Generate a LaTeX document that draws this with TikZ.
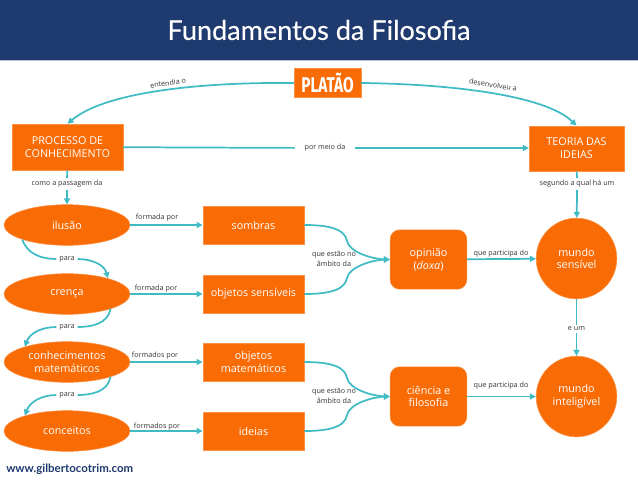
\documentclass[tikz,border=0pt]{standalone}
\usepackage{fontspec}
\setmainfont{Open Sans}
\newfontfamily\titlefont[FakeBold=0.25]{Lato}
\newfontfamily\sitefont{Lato}
\newfontfamily\platofont[FakeStretch=0.72]{Fira Sans}
\usetikzlibrary{shapes,arrows.meta,positioning,calc}
\definecolor{boxorange}{HTML}{F96C05}
\definecolor{linkteal}{HTML}{3FBBC4}
\definecolor{bandnavy}{HTML}{1F3A6F}

\begin{document}
\begin{tikzpicture}[x=0.75pt, y=-0.75pt,
    box/.style={fill=boxorange, draw=boxorange!75!white, line width=0.4pt, text=white, align=center, inner sep=0pt, font=\fontsize{8.1}{9.6}\selectfont},
    oval/.style={box, ellipse, minimum width=94.5pt, minimum height=30.5pt},
    rect/.style={box, minimum width=76pt, minimum height=28.5pt},
    round box/.style={box, rounded corners=7pt, minimum width=57.5pt, minimum height=44.5pt},
    world/.style={box, circle, minimum size=60.5pt},
    lab/.style={font=\fontsize{5.4}{7.5}\selectfont, text=black!80, align=center, inner sep=0pt},
    gap/.style={lab, inner ysep=1.5pt},
    link/.style={linkteal, line width=1.3pt},
    arrow/.style={link, -{Triangle[length=4.5pt, width=4.5pt]}}
]
    \useasboundingbox (0,0) rectangle (638,479);

    % Header band
    \fill[bandnavy] (0,0) rectangle (638,60);
    \fill[bandnavy!30!white] (0,60) rectangle (638,61);
    \node[text=white, font=\titlefont\fontsize{20.3}{22}\selectfont] (title) at (319,30) {Fundamentos da Filosofia};

    % Top row
    \node[box, minimum width=50pt, minimum height=21.5pt, font=\platofont\bfseries\fontsize{16}{18}\selectfont] (platao) at (327.5,83) {PLATÃO};
    \node[box, minimum width=83pt, minimum height=34.5pt] (processo) at (67.5,147) {PROCESSO DE\\CONHECIMENTO};
    \node[box, minimum width=71pt, minimum height=34pt] (teoria) at (576.5,148.5) {TEORIA DAS\\IDEIAS};

    % Left column
    \node[oval] (ilusao) at (67,225) {ilusão};
    \node[oval] (crenca) at (67,294) {crença};
    \node[oval] (conhecimentos) at (67,362) {conhecimentos\\matemáticos};
    \node[oval] (conceitos) at (67,431) {conceitos};

    % Middle column
    \node[rect] (sombras) at (253.5,225) {sombras};
    \node[rect] (sensiveis) at (253.5,294) {objetos sensíveis};
    \node[rect] (matematicos) at (253.5,362) {objetos\\matemáticos};
    \node[rect] (ideias) at (253.5,431) {ideias};

    % Right columns
    \node[round box] (opiniao) at (428.5,259.5) {opinião\\(\textit{doxa})};
    \node[round box] (ciencia) at (428.5,396.5) {ciência e\\filosofia};
    \node[world] (sensivel) at (576.5,258.5) {mundo\\sensível};
    \node[world] (inteligivel) at (576.5,396.5) {mundo\\inteligível};

    % Labels sitting on a connector
    \node[gap] (passagem) at (67,184) {como a passagem da};
    \node[gap] (segundo) at (577,184) {segundo a qual há um};
    \node[gap] (eum) at (576.5,329) {e um};
    \node[lab, minimum width=45pt] (meio) at (325,148) {por meio da};
    \node[lab, minimum width=15.5pt] (para1) at (67,259) {para};
    \node[lab, minimum width=15.5pt] (para2) at (67,327) {para};
    \node[lab, minimum width=15.5pt] (para3) at (67,395) {para};

    % Labels beside a connector
    \node[lab, rotate=8] (entendia) at (168,83) {entendia o};
    \node[lab, rotate=-9] (desenvolveu) at (493,85) {desenvolveu a};
    \node[lab] (formada1) at (157,218) {formada por};
    \node[lab] (formada2) at (156,289) {formada por};
    \node[lab] (formados1) at (155,356) {formados por};
    \node[lab] (formados2) at (157,427) {formados por};
    \node[lab] (ambito1) at (334,259) {que estão no\\âmbito da};
    \node[lab] (ambito2) at (334,396) {que estão no\\âmbito da};
    \node[lab] (participa1) at (501,254) {que participa do};
    \node[lab] (participa2) at (501,386) {que participa do};

    % Website
    \node[anchor=west, inner sep=0pt, text=bandnavy, font=\sitefont\bfseries\fontsize{8.6}{11}\selectfont] (site) at (6,469) {www.gilbertocotrim.com};

    % Curved links from the top node
    \draw[arrow] (platao.west) .. controls (200,82) and (105,92) .. (processo.north);
    \draw[arrow] (platao.east) .. controls (450,84) and (545,95) .. (teoria.north);

    % Links broken by a label
    \draw[link] (processo) -- (meio);
    \draw[arrow] (meio) -- (teoria.west |- meio);
    \draw[link] (processo) -- (passagem);
    \draw[arrow] (passagem) -- (ilusao);
    \draw[link] (teoria) -- (segundo);
    \draw[arrow] (segundo) -- (sensivel);
    \draw[link] (sensivel) -- (eum);
    \draw[arrow] (eum) -- (inteligivel);

    % Left column links
    \draw[link] (ilusao.198) to[out=-70, in=180] (para1.west);
    \draw[arrow] (para1.east) to[out=0, in=105] (crenca.21);
    \draw[link] (crenca.-19) to[out=-100, in=0] (para2.east);
    \draw[arrow] (para2.west) to[out=180, in=70] (conhecimentos.160);
    \draw[link] (conhecimentos.-19) to[out=-100, in=0] (para3.east);
    \draw[arrow] (para3.west) to[out=180, in=70] (conceitos.160);

    % Left to middle
    \foreach \from/\to in {ilusao/sombras, crenca/sensiveis, conhecimentos/matematicos, conceitos/ideias} {
        \draw[arrow] (\from) -- (\to);
    }

    % Middle to right, two links meeting at each box
    \draw[arrow] (sombras.east) .. controls (332,225) and (345,230) .. (347,241) .. controls (349,252) and (372,259) .. (opiniao.west);
    \draw[arrow] (sensiveis.east) .. controls (332,294) and (345,289) .. (347,278) .. controls (349,267) and (372,260) .. (opiniao.west);
    \draw[arrow] (matematicos.east) .. controls (332,362) and (345,367) .. (347,378) .. controls (349,389) and (372,396) .. (ciencia.west);
    \draw[arrow] (ideias.east) .. controls (332,431) and (345,426) .. (347,415) .. controls (349,404) and (372,397) .. (ciencia.west);

    % Right links
    \draw[arrow] (opiniao) -- (sensivel);
    \draw[arrow] (ciencia) -- (inteligivel);
\end{tikzpicture}
\end{document}
